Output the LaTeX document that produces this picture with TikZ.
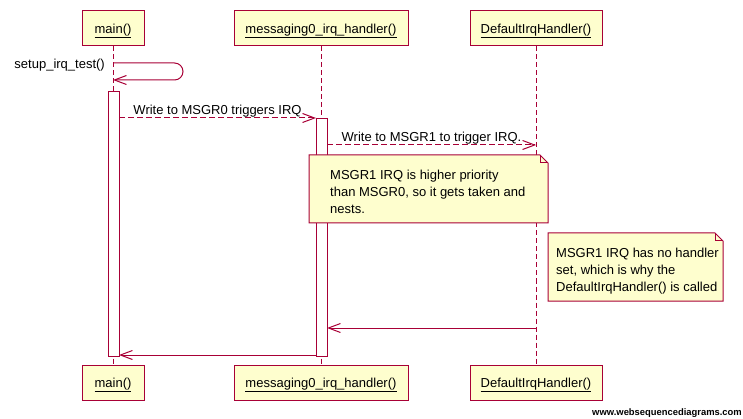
\documentclass[tikz,border=0pt]{standalone}
\usepackage{fontspec}
\setmainfont{Liberation Sans}
\usetikzlibrary{arrows.meta}
\definecolor{wsdred}{HTML}{A80036}
\definecolor{wsdfill}{HTML}{FEFECE}
\tikzset{
 actor/.style={draw=wsdred, fill=wsdfill, line width=1pt, minimum height=35pt, inner sep=0pt,
   text height=10pt, text depth=0pt, font=\fontsize{13pt}{17pt}\selectfont},
 lifeline/.style={draw=wsdred, line width=1pt, dash pattern=on 5pt off 3pt},
 actbar/.style={draw=wsdred, fill=white, line width=1pt, inner sep=0pt, minimum width=11pt, anchor=north},
 msg/.style={draw=wsdred, line width=1pt, -{Straight Barb[length=12pt,width=9pt]}},
 dmsg/.style={msg, dash pattern=on 6pt off 3pt},
 lbl/.style={inner sep=0pt, font=\fontsize{13pt}{17pt}\selectfont},
 notebox/.style={draw=wsdred, fill=wsdfill, line width=1pt},
 notetext/.style={inner sep=0pt, align=left, anchor=north west, font=\fontsize{13pt}{17pt}\selectfont},
}
\begin{document}
\begin{tikzpicture}[x=1pt,y=-1pt]
\useasboundingbox (0,0) rectangle (743,419);
% actors
\node[actor, minimum width=62pt]  (mainT) at (113,28.5) {\underline{main()}};
\node[actor, minimum width=174pt] (msgT)  at (321,28.5) {\underline{messaging0\_irq\_handler()}};
\node[actor, minimum width=132pt] (defT)  at (536,28.5) {\underline{DefaultIrqHandler()}};
\node[actor, minimum width=62pt]  (mainB) at (113,382.5) {\underline{main()}};
\node[actor, minimum width=174pt] (msgB)  at (321,382.5) {\underline{messaging0\_irq\_handler()}};
\node[actor, minimum width=132pt] (defB)  at (536,382.5) {\underline{DefaultIrqHandler()}};
% lifelines
\draw[lifeline] (mainT.south) -- (mainB.north);
\draw[lifeline] (msgT.south) -- (msgB.north);
\draw[lifeline] (defT.south) -- (defB.north);
% activation bars
\node[actbar, minimum height=265pt] (mainA) at (113.5,91) {};
\node[actbar, minimum height=238pt] (msgA)  at (321.5,118) {};
% message end points
\coordinate (s1) at (113,63);
\coordinate (s2) at (113,80);
\coordinate (a1) at (119,118);
\coordinate (a2) at (316,118);
\coordinate (b1) at (327,145);
\coordinate (b2) at (536,145);
\coordinate (c1) at (536,328);
\coordinate (c2) at (327,328);
\coordinate (d1) at (316,355);
\coordinate (d2) at (119,355);
% messages
\draw[msg, rounded corners=8.5pt] (s1) -- ++(70,0) -- ++(0,17) -- (s2);
\node[lbl, anchor=base east] (ls) at (105,69) {setup\_irq\_test()};
\draw[dmsg] (a1) -- (a2);
\node[lbl, anchor=base] (la) at (217.5,115) {Write to MSGR0 triggers IRQ};
\draw[dmsg] (b1) -- (b2);
\node[lbl, anchor=base] (lb) at (431.5,141.5) {Write to MSGR1 to trigger IRQ.};
\draw[msg] (c1) -- (c2);
\draw[msg] (d1) -- (d2);
% note 1
\filldraw[notebox] (309,155) -- (540,155) -- (548,163) -- (548,223) -- (309,223) -- cycle;
\draw[notebox, fill=none] (540,155) -- (540,163) -- (548,163);
\node[notetext] (n1) at (330,169.5) {MSGR1 IRQ is higher priority\\than MSGR0, so it gets taken and\\nests.};
% note 2
\filldraw[notebox] (548,233) -- (715,233) -- (723,241) -- (723,301) -- (548,301) -- cycle;
\draw[notebox, fill=none] (715,233) -- (715,241) -- (723,241);
\node[notetext] (n2) at (556,247.5) {MSGR1 IRQ has no handler\\set, which is why the\\DefaultIrqHandler() is called};
% watermark
\node[inner sep=0pt, anchor=base east, font=\bfseries\fontsize{9.4pt}{11pt}\selectfont] (wm) at (742,415) {www.websequencediagrams.com};
\end{tikzpicture}
\end{document}
